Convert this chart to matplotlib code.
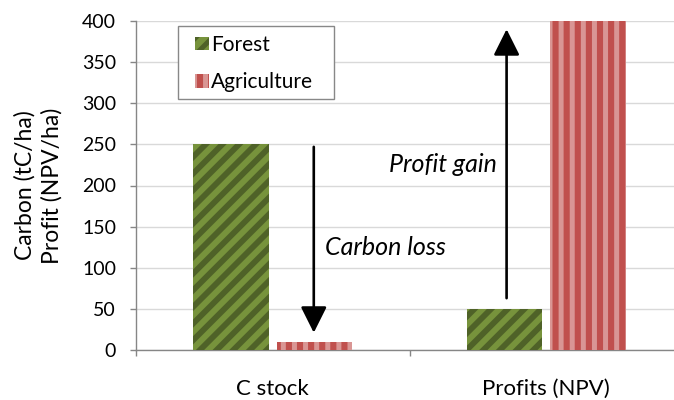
import matplotlib
matplotlib.use("Agg")
import matplotlib.pyplot as plt
import matplotlib.backend_bases as mbb
from matplotlib.path import Path
from matplotlib.patches import Rectangle
import numpy as np

# ---- data ----
categories = ["C stock", "Profits (NPV)"]
series_names = ["Forest", "Agriculture"]
forest_values = [250, 50]
agriculture_values = [10, 400]
yticks = [0, 50, 100, 150, 200, 250, 300, 350, 400]
ylabel_text = "Carbon (tC/ha)\nProfit (NPV/ha)"
annotations = ["Carbon loss", "Profit gain"]
# arrows: (x, y_start, y_end) in data units
arrow_x = [0.15, 0.855]
arrow_from = [247, 63]
arrow_to = [21, 390]
# annotation text positions
text_x = [0.413, 0.621]
text_y = [125, 225]

# ---- finer hatch density control ----
def _hatch_path(self, density=3.0):
    h = self.get_hatch()
    if h is None:
        return None
    return Path.hatch(h, density)
mbb.GraphicsContextBase.get_hatch_path = _hatch_path

FONT = ["Lato", "DejaVu Sans"]
plt.rcParams["font.family"] = FONT

fig = plt.figure(figsize=(6.74, 4.0), dpi=100)
ax = fig.add_axes([136/674, 1-350/400, 547/674, 329/400])

x = np.arange(len(categories))
w = 0.275
off = 0.153

green, green_dark = "#77933C", "#4F6228"
red, red_light = "#C0504D", "#D99694"

plt.rcParams["hatch.linewidth"] = 4.2
b1 = ax.bar(x - off, forest_values, w, color=green, edgecolor=green_dark,
            linewidth=0, hatch="////", label=series_names[0], zorder=3)
plt.rcParams["hatch.linewidth"] = 3.6
b2 = ax.bar(x + off, agriculture_values, w, color=red, edgecolor=red_light,
            linewidth=0, hatch="|||", label=series_names[1], zorder=3)

ax.set_xlim(-0.5, 1.5)
ax.set_ylim(0, 400)
ax.set_yticks(yticks)
ax.yaxis.grid(True, color="#D9D9D9", linewidth=1.0, zorder=0)
ax.set_axisbelow(True)

for s in ["top", "right"]:
    ax.spines[s].set_visible(False)
for s in ["left", "bottom"]:
    ax.spines[s].set_color("#868686")
    ax.spines[s].set_linewidth(1.0)

ax.tick_params(axis="y", length=4.3, width=1, color="#868686", pad=10,
               labelsize=14, labelcolor="black")
ax.set_xticks(x)
ax.set_xticklabels(categories)
ax.tick_params(axis="x", which="major", length=0, pad=21, labelsize=16)
ax.set_xticks([-0.5, 0.5, 1.5], minor=True)
ax.tick_params(axis="x", which="minor", length=4.3, width=1, color="#868686")

ax.set_ylabel(ylabel_text, fontsize=16.5, linespacing=1.35)
ax.yaxis.set_label_coords(-0.1335, 0.5)

# arrows
for ax_, y0, y1 in zip(arrow_x, arrow_from, arrow_to):
    ax.annotate("", xy=(ax_, y1), xytext=(ax_, y0),
                arrowprops=dict(arrowstyle="-|>,head_length=0.8,head_width=0.4",
                                lw=1.9, color="black", mutation_scale=20,
                                shrinkA=0, shrinkB=0),
                zorder=4)
for t, tx, ty in zip(annotations, text_x, text_y):
    ax.text(tx, ty, t, fontsize=18, style="italic", ha="center", va="center",
            zorder=4)

# legend
fig.patches.append(Rectangle((178/674, 1-99/400), 156/674, 73/400,
                             transform=fig.transFigure, facecolor="white",
                             edgecolor="#888888", linewidth=1.0, zorder=5))
leg = fig.legend(handles=[b1, b2], labels=series_names, loc="upper left",
                 bbox_to_anchor=(178/674, 1-18/400), frameon=False,
                 fontsize=15, handlelength=0.67, handleheight=0.63,
                 handletextpad=0.1, labelspacing=0.84, borderpad=0.3)
leg.set_zorder(6)

fig.savefig("out.png", dpi=100)
